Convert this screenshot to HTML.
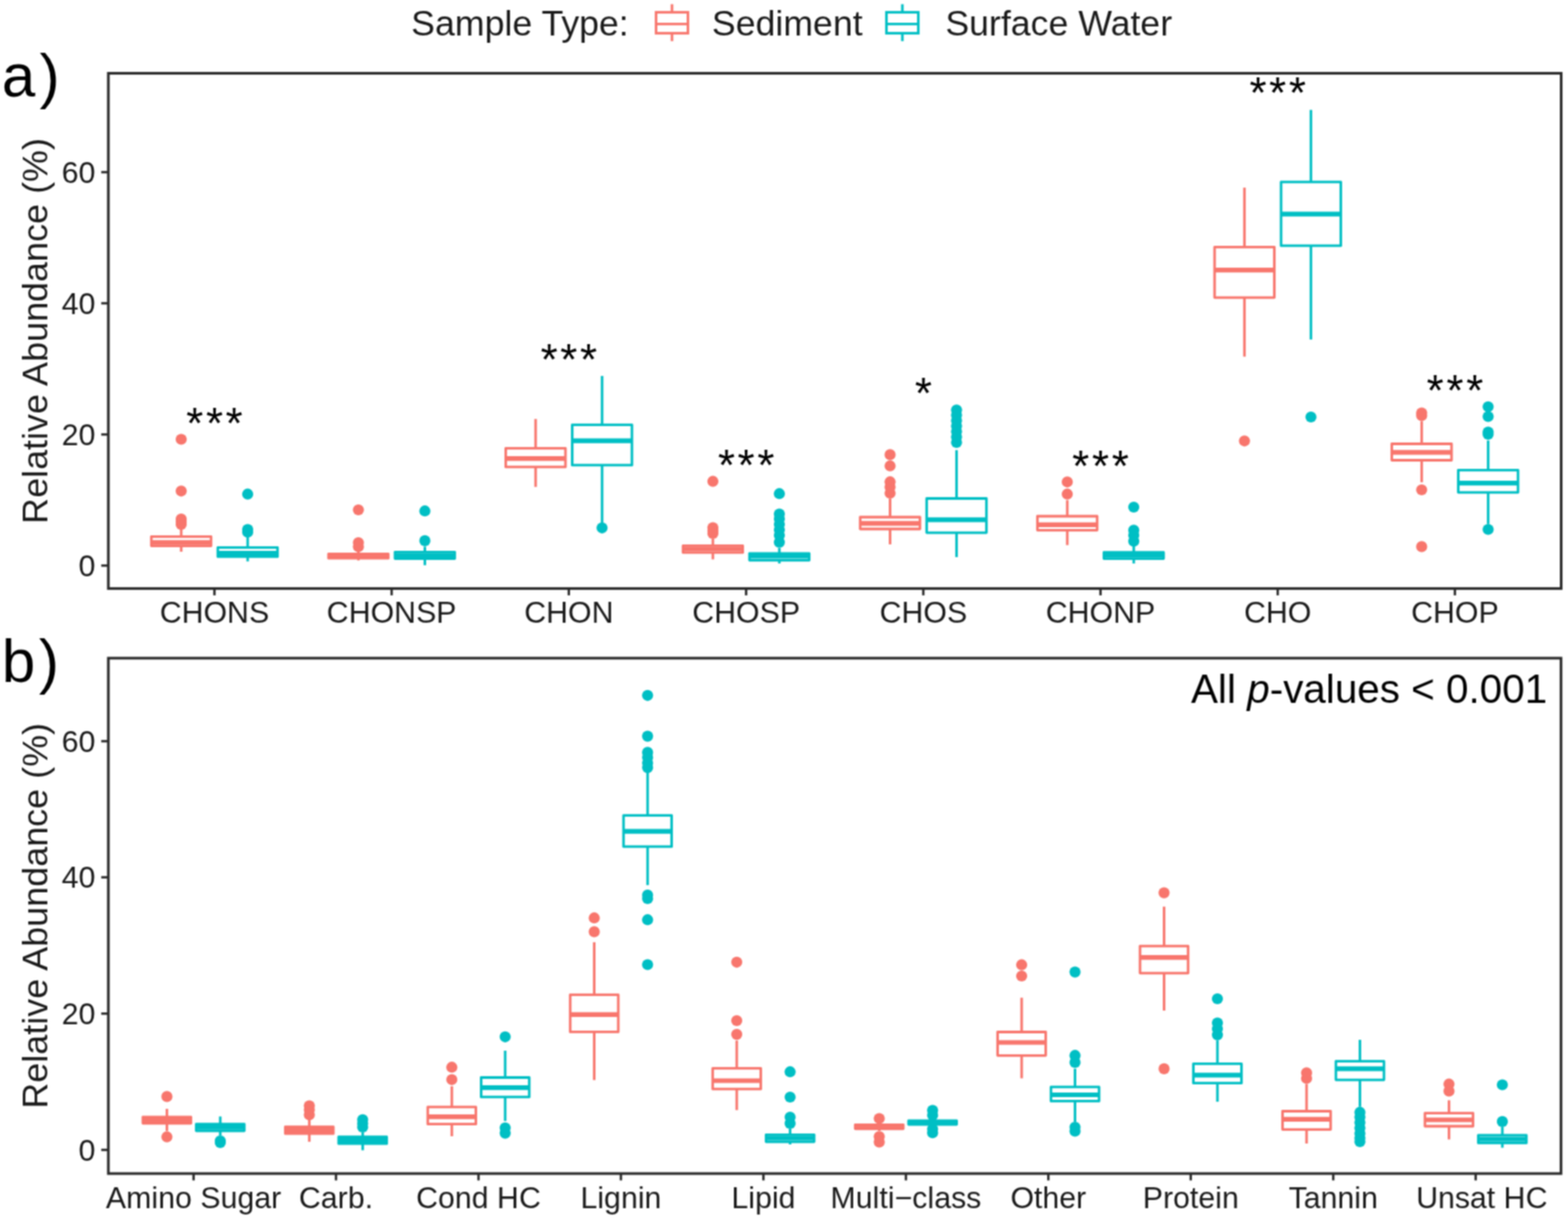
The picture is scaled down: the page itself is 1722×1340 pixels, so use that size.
<!DOCTYPE html>
<html><head><meta charset="utf-8"><title>Relative Abundance boxplots</title><style>
html,body{margin:0;padding:0;background:#fff;}
svg{display:block;}
text{font-family:"Liberation Sans",Arial,Helvetica,sans-serif;fill:#1a1a1a;}
.ax{font-size:33.3px;}
.lg{font-size:39.2px;}
.yt{font-size:39.5px;}
.tag{font-size:66px;fill:#000;}
.sig{font-size:48px;letter-spacing:3px;fill:#000;}
.pv{font-size:44.4px;fill:#000;}
</style></head>
<body>
<svg width="1722" height="1340" viewBox="0 0 1722 1340">
<defs><filter id="soft" x="0" y="0" width="1722" height="1340" filterUnits="userSpaceOnUse" color-interpolation-filters="sRGB"><feConvolveMatrix order="3" kernelMatrix="1 2 1 2 4 2 1 2 1" divisor="16" edgeMode="duplicate"/></filter></defs>
<g filter="url(#soft)">
<rect x="0" y="0" width="1722" height="1340" fill="#fff"/>
<g stroke="#F8766D" fill="none">
<line x1="199" y1="580.7" x2="199" y2="589.3" stroke-width="2.8"/>
<line x1="199" y1="599.6" x2="199" y2="606" stroke-width="2.8"/>
<rect x="166.2" y="589.3" width="65.6" height="10.3" stroke-width="2.8" stroke-linejoin="round" fill="#fff"/>
<line x1="166.2" y1="595.8" x2="231.8" y2="595.8" stroke-width="5.2"/>
</g>
<g fill="#F8766D"><circle cx="199" cy="482.5" r="6.1"/><circle cx="199" cy="539.3" r="6.1"/><circle cx="199" cy="570" r="6.1"/><circle cx="199" cy="573" r="6.1"/><circle cx="199" cy="576" r="6.1"/></g>
<g stroke="#00BFC4" fill="none">
<line x1="272" y1="588" x2="272" y2="601.4" stroke-width="2.8"/>
<line x1="272" y1="611.4" x2="272" y2="616.6" stroke-width="2.8"/>
<rect x="239.2" y="601.4" width="65.6" height="10" stroke-width="2.8" stroke-linejoin="round" fill="#fff"/>
<line x1="239.2" y1="607.6" x2="304.8" y2="607.6" stroke-width="5.2"/>
</g>
<g fill="#00BFC4"><circle cx="272" cy="542.7" r="6.1"/><circle cx="272" cy="581.5" r="6.1"/><circle cx="272" cy="584.5" r="6.1"/></g>
<g stroke="#F8766D" fill="none">
<line x1="393.6" y1="604" x2="393.6" y2="608.5" stroke-width="2.8"/>
<line x1="393.6" y1="613.2" x2="393.6" y2="615.5" stroke-width="2.8"/>
<rect x="360.8" y="608.5" width="65.6" height="4.7" stroke-width="2.8" stroke-linejoin="round" fill="#fff"/>
<line x1="360.8" y1="611" x2="426.4" y2="611" stroke-width="5.2"/>
</g>
<g fill="#F8766D"><circle cx="393.6" cy="560" r="6.1"/><circle cx="393.6" cy="596" r="6.1"/><circle cx="393.6" cy="600.5" r="6.1"/></g>
<g stroke="#00BFC4" fill="none">
<line x1="466.6" y1="600.4" x2="466.6" y2="606.3" stroke-width="2.8"/>
<line x1="466.6" y1="613.5" x2="466.6" y2="620.8" stroke-width="2.8"/>
<rect x="433.8" y="606.3" width="65.6" height="7.2" stroke-width="2.8" stroke-linejoin="round" fill="#fff"/>
<line x1="433.8" y1="610" x2="499.4" y2="610" stroke-width="5.2"/>
</g>
<g fill="#00BFC4"><circle cx="466.6" cy="561.2" r="6.1"/><circle cx="466.6" cy="593.9" r="6.1"/></g>
<g stroke="#F8766D" fill="none">
<line x1="588.2" y1="460.2" x2="588.2" y2="492.4" stroke-width="2.8"/>
<line x1="588.2" y1="512.9" x2="588.2" y2="534.8" stroke-width="2.8"/>
<rect x="555.4" y="492.4" width="65.6" height="20.5" stroke-width="2.8" stroke-linejoin="round" fill="#fff"/>
<line x1="555.4" y1="503.6" x2="621" y2="503.6" stroke-width="5.2"/>
</g>
<g stroke="#00BFC4" fill="none">
<line x1="661.2" y1="412.9" x2="661.2" y2="466.6" stroke-width="2.8"/>
<line x1="661.2" y1="510.9" x2="661.2" y2="574.3" stroke-width="2.8"/>
<rect x="628.4" y="466.6" width="65.6" height="44.3" stroke-width="2.8" stroke-linejoin="round" fill="#fff"/>
<line x1="628.4" y1="484.2" x2="694" y2="484.2" stroke-width="5.2"/>
</g>
<g fill="#00BFC4"><circle cx="661.2" cy="579.8" r="6.1"/></g>
<g stroke="#F8766D" fill="none">
<line x1="782.9" y1="592" x2="782.9" y2="599.4" stroke-width="2.8"/>
<line x1="782.9" y1="606.9" x2="782.9" y2="614.4" stroke-width="2.8"/>
<rect x="750.1" y="599.4" width="65.6" height="7.5" stroke-width="2.8" stroke-linejoin="round" fill="#fff"/>
<line x1="750.1" y1="603" x2="815.7" y2="603" stroke-width="5.2"/>
</g>
<g fill="#F8766D"><circle cx="782.9" cy="528.7" r="6.1"/><circle cx="782.9" cy="579.5" r="6.1"/><circle cx="782.9" cy="583" r="6.1"/><circle cx="782.9" cy="586" r="6.1"/></g>
<g stroke="#00BFC4" fill="none">
<line x1="855.9" y1="602" x2="855.9" y2="607.8" stroke-width="2.8"/>
<line x1="855.9" y1="615.3" x2="855.9" y2="618.9" stroke-width="2.8"/>
<rect x="823.1" y="607.8" width="65.6" height="7.5" stroke-width="2.8" stroke-linejoin="round" fill="#fff"/>
<line x1="823.1" y1="611" x2="888.7" y2="611" stroke-width="5.2"/>
</g>
<g fill="#00BFC4"><circle cx="855.9" cy="542.2" r="6.1"/><circle cx="855.9" cy="564.5" r="6.1"/><circle cx="855.9" cy="570" r="6.1"/><circle cx="855.9" cy="576" r="6.1"/><circle cx="855.9" cy="582" r="6.1"/><circle cx="855.9" cy="588" r="6.1"/><circle cx="855.9" cy="595.6" r="6.1"/></g>
<g stroke="#F8766D" fill="none">
<line x1="977.5" y1="548" x2="977.5" y2="568" stroke-width="2.8"/>
<line x1="977.5" y1="581" x2="977.5" y2="597.9" stroke-width="2.8"/>
<rect x="944.7" y="568" width="65.6" height="13" stroke-width="2.8" stroke-linejoin="round" fill="#fff"/>
<line x1="944.7" y1="574.9" x2="1010.3" y2="574.9" stroke-width="5.2"/>
</g>
<g fill="#F8766D"><circle cx="977.5" cy="499.4" r="6.1"/><circle cx="977.5" cy="511.7" r="6.1"/><circle cx="977.5" cy="529.2" r="6.1"/><circle cx="977.5" cy="535" r="6.1"/><circle cx="977.5" cy="541.8" r="6.1"/></g>
<g stroke="#00BFC4" fill="none">
<line x1="1050.5" y1="494.4" x2="1050.5" y2="547.5" stroke-width="2.8"/>
<line x1="1050.5" y1="585.1" x2="1050.5" y2="611.9" stroke-width="2.8"/>
<rect x="1017.7" y="547.5" width="65.6" height="37.6" stroke-width="2.8" stroke-linejoin="round" fill="#fff"/>
<line x1="1017.7" y1="570.8" x2="1083.3" y2="570.8" stroke-width="5.2"/>
</g>
<g fill="#00BFC4"><circle cx="1050.5" cy="450.3" r="6.1"/><circle cx="1050.5" cy="456" r="6.1"/><circle cx="1050.5" cy="462" r="6.1"/><circle cx="1050.5" cy="468" r="6.1"/><circle cx="1050.5" cy="474" r="6.1"/><circle cx="1050.5" cy="480" r="6.1"/><circle cx="1050.5" cy="486" r="6.1"/></g>
<g stroke="#F8766D" fill="none">
<line x1="1172.1" y1="549.4" x2="1172.1" y2="567" stroke-width="2.8"/>
<line x1="1172.1" y1="582.3" x2="1172.1" y2="598.7" stroke-width="2.8"/>
<rect x="1139.3" y="567" width="65.6" height="15.3" stroke-width="2.8" stroke-linejoin="round" fill="#fff"/>
<line x1="1139.3" y1="576.3" x2="1204.9" y2="576.3" stroke-width="5.2"/>
</g>
<g fill="#F8766D"><circle cx="1172.1" cy="529.3" r="6.1"/><circle cx="1172.1" cy="542.7" r="6.1"/></g>
<g stroke="#00BFC4" fill="none">
<line x1="1245.1" y1="600" x2="1245.1" y2="606.7" stroke-width="2.8"/>
<line x1="1245.1" y1="613.6" x2="1245.1" y2="618.9" stroke-width="2.8"/>
<rect x="1212.3" y="606.7" width="65.6" height="6.9" stroke-width="2.8" stroke-linejoin="round" fill="#fff"/>
<line x1="1212.3" y1="610" x2="1277.9" y2="610" stroke-width="5.2"/>
</g>
<g fill="#00BFC4"><circle cx="1245.1" cy="557" r="6.1"/><circle cx="1245.1" cy="582.3" r="6.1"/><circle cx="1245.1" cy="588" r="6.1"/><circle cx="1245.1" cy="594.4" r="6.1"/></g>
<g stroke="#F8766D" fill="none">
<line x1="1366.7" y1="206.1" x2="1366.7" y2="271.4" stroke-width="2.8"/>
<line x1="1366.7" y1="326.8" x2="1366.7" y2="391.7" stroke-width="2.8"/>
<rect x="1333.9" y="271.4" width="65.6" height="55.4" stroke-width="2.8" stroke-linejoin="round" fill="#fff"/>
<line x1="1333.9" y1="296.7" x2="1399.5" y2="296.7" stroke-width="5.2"/>
</g>
<g fill="#F8766D"><circle cx="1366.7" cy="484.3" r="6.1"/></g>
<g stroke="#00BFC4" fill="none">
<line x1="1439.7" y1="120.7" x2="1439.7" y2="199.9" stroke-width="2.8"/>
<line x1="1439.7" y1="269.9" x2="1439.7" y2="372.9" stroke-width="2.8"/>
<rect x="1406.9" y="199.9" width="65.6" height="70" stroke-width="2.8" stroke-linejoin="round" fill="#fff"/>
<line x1="1406.9" y1="235.1" x2="1472.5" y2="235.1" stroke-width="5.2"/>
</g>
<g fill="#00BFC4"><circle cx="1439.7" cy="458" r="6.1"/></g>
<g stroke="#F8766D" fill="none">
<line x1="1561.3" y1="462.5" x2="1561.3" y2="487.5" stroke-width="2.8"/>
<line x1="1561.3" y1="505.5" x2="1561.3" y2="529.7" stroke-width="2.8"/>
<rect x="1528.5" y="487.5" width="65.6" height="18" stroke-width="2.8" stroke-linejoin="round" fill="#fff"/>
<line x1="1528.5" y1="496.9" x2="1594.1" y2="496.9" stroke-width="5.2"/>
</g>
<g fill="#F8766D"><circle cx="1561.3" cy="453.6" r="6.1"/><circle cx="1561.3" cy="456.4" r="6.1"/><circle cx="1561.3" cy="538" r="6.1"/><circle cx="1561.3" cy="600.4" r="6.1"/></g>
<g stroke="#00BFC4" fill="none">
<line x1="1634.3" y1="483.8" x2="1634.3" y2="516.3" stroke-width="2.8"/>
<line x1="1634.3" y1="540.8" x2="1634.3" y2="575.7" stroke-width="2.8"/>
<rect x="1601.5" y="516.3" width="65.6" height="24.5" stroke-width="2.8" stroke-linejoin="round" fill="#fff"/>
<line x1="1601.5" y1="530.6" x2="1667.1" y2="530.6" stroke-width="5.2"/>
</g>
<g fill="#00BFC4"><circle cx="1634.3" cy="446.8" r="6.1"/><circle cx="1634.3" cy="457.5" r="6.1"/><circle cx="1634.3" cy="474.5" r="6.1"/><circle cx="1634.3" cy="477" r="6.1"/><circle cx="1634.3" cy="581.5" r="6.1"/></g>
<rect x="119" y="80.5" width="1595.5" height="565.9" fill="none" stroke="#2a2a2a" stroke-width="2.9"/>
<line x1="111.2" y1="621.2" x2="119" y2="621.2" stroke="#2a2a2a" stroke-width="2.6"/>
<text x="104.8" y="633" text-anchor="end" class="ax">0</text>
<line x1="111.2" y1="477.2" x2="119" y2="477.2" stroke="#2a2a2a" stroke-width="2.6"/>
<text x="104.8" y="489" text-anchor="end" class="ax">20</text>
<line x1="111.2" y1="333.1" x2="119" y2="333.1" stroke="#2a2a2a" stroke-width="2.6"/>
<text x="104.8" y="344.9" text-anchor="end" class="ax">40</text>
<line x1="111.2" y1="189.1" x2="119" y2="189.1" stroke="#2a2a2a" stroke-width="2.6"/>
<text x="104.8" y="200.9" text-anchor="end" class="ax">60</text>
<line x1="235.5" y1="646.4" x2="235.5" y2="653.9" stroke="#2a2a2a" stroke-width="2.6"/>
<text x="235.5" y="684.4" text-anchor="middle" class="ax">CHONS</text>
<line x1="430.1" y1="646.4" x2="430.1" y2="653.9" stroke="#2a2a2a" stroke-width="2.6"/>
<text x="430.1" y="684.4" text-anchor="middle" class="ax">CHONSP</text>
<line x1="624.7" y1="646.4" x2="624.7" y2="653.9" stroke="#2a2a2a" stroke-width="2.6"/>
<text x="624.7" y="684.4" text-anchor="middle" class="ax">CHON</text>
<line x1="819.4" y1="646.4" x2="819.4" y2="653.9" stroke="#2a2a2a" stroke-width="2.6"/>
<text x="819.4" y="684.4" text-anchor="middle" class="ax">CHOSP</text>
<line x1="1014" y1="646.4" x2="1014" y2="653.9" stroke="#2a2a2a" stroke-width="2.6"/>
<text x="1014" y="684.4" text-anchor="middle" class="ax">CHOS</text>
<line x1="1208.6" y1="646.4" x2="1208.6" y2="653.9" stroke="#2a2a2a" stroke-width="2.6"/>
<text x="1208.6" y="684.4" text-anchor="middle" class="ax">CHONP</text>
<line x1="1403.2" y1="646.4" x2="1403.2" y2="653.9" stroke="#2a2a2a" stroke-width="2.6"/>
<text x="1403.2" y="684.4" text-anchor="middle" class="ax">CHO</text>
<line x1="1597.8" y1="646.4" x2="1597.8" y2="653.9" stroke="#2a2a2a" stroke-width="2.6"/>
<text x="1597.8" y="684.4" text-anchor="middle" class="ax">CHOP</text>
<g stroke="#F8766D" fill="none">
<line x1="183.3" y1="1217.9" x2="183.3" y2="1226.8" stroke-width="2.8"/>
<line x1="183.3" y1="1233.8" x2="183.3" y2="1242.3" stroke-width="2.8"/>
<rect x="156.9" y="1226.8" width="52.8" height="7" stroke-width="2.8" stroke-linejoin="round" fill="#fff"/>
<line x1="156.9" y1="1230.3" x2="209.7" y2="1230.3" stroke-width="5.2"/>
</g>
<g fill="#F8766D"><circle cx="183.3" cy="1204.4" r="6.1"/><circle cx="183.3" cy="1248.7" r="6.1"/></g>
<g stroke="#00BFC4" fill="none">
<line x1="241.9" y1="1226.3" x2="241.9" y2="1234.7" stroke-width="2.8"/>
<line x1="241.9" y1="1242" x2="241.9" y2="1247" stroke-width="2.8"/>
<rect x="215.5" y="1234.7" width="52.8" height="7.3" stroke-width="2.8" stroke-linejoin="round" fill="#fff"/>
<line x1="215.5" y1="1238.2" x2="268.3" y2="1238.2" stroke-width="5.2"/>
</g>
<g fill="#00BFC4"><circle cx="241.9" cy="1253" r="6.1"/><circle cx="241.9" cy="1255" r="6.1"/></g>
<g stroke="#F8766D" fill="none">
<line x1="339.7" y1="1230" x2="339.7" y2="1237.7" stroke-width="2.8"/>
<line x1="339.7" y1="1245.2" x2="339.7" y2="1254.1" stroke-width="2.8"/>
<rect x="313.3" y="1237.7" width="52.8" height="7.5" stroke-width="2.8" stroke-linejoin="round" fill="#fff"/>
<line x1="313.3" y1="1241.5" x2="366.1" y2="1241.5" stroke-width="5.2"/>
</g>
<g fill="#F8766D"><circle cx="339.7" cy="1214.6" r="6.1"/><circle cx="339.7" cy="1219" r="6.1"/><circle cx="339.7" cy="1224.5" r="6.1"/></g>
<g stroke="#00BFC4" fill="none">
<line x1="398.3" y1="1244" x2="398.3" y2="1248.7" stroke-width="2.8"/>
<line x1="398.3" y1="1256.2" x2="398.3" y2="1263.4" stroke-width="2.8"/>
<rect x="371.9" y="1248.7" width="52.8" height="7.5" stroke-width="2.8" stroke-linejoin="round" fill="#fff"/>
<line x1="371.9" y1="1252.5" x2="424.7" y2="1252.5" stroke-width="5.2"/>
</g>
<g fill="#00BFC4"><circle cx="398.3" cy="1229.8" r="6.1"/><circle cx="398.3" cy="1234" r="6.1"/><circle cx="398.3" cy="1238" r="6.1"/></g>
<g stroke="#F8766D" fill="none">
<line x1="496.2" y1="1193.1" x2="496.2" y2="1215.9" stroke-width="2.8"/>
<line x1="496.2" y1="1234.7" x2="496.2" y2="1248" stroke-width="2.8"/>
<rect x="469.8" y="1215.9" width="52.8" height="18.8" stroke-width="2.8" stroke-linejoin="round" fill="#fff"/>
<line x1="469.8" y1="1226.6" x2="522.6" y2="1226.6" stroke-width="5.2"/>
</g>
<g fill="#F8766D"><circle cx="496.2" cy="1172.2" r="6.1"/><circle cx="496.2" cy="1185.8" r="6.1"/></g>
<g stroke="#00BFC4" fill="none">
<line x1="554.8" y1="1154" x2="554.8" y2="1183.5" stroke-width="2.8"/>
<line x1="554.8" y1="1204.9" x2="554.8" y2="1231.3" stroke-width="2.8"/>
<rect x="528.4" y="1183.5" width="52.8" height="21.4" stroke-width="2.8" stroke-linejoin="round" fill="#fff"/>
<line x1="528.4" y1="1194.7" x2="581.2" y2="1194.7" stroke-width="5.2"/>
</g>
<g fill="#00BFC4"><circle cx="554.8" cy="1138.8" r="6.1"/><circle cx="554.8" cy="1238.8" r="6.1"/><circle cx="554.8" cy="1244.6" r="6.1"/></g>
<g stroke="#F8766D" fill="none">
<line x1="652.6" y1="1034.9" x2="652.6" y2="1092.6" stroke-width="2.8"/>
<line x1="652.6" y1="1133.4" x2="652.6" y2="1186.3" stroke-width="2.8"/>
<rect x="626.2" y="1092.6" width="52.8" height="40.8" stroke-width="2.8" stroke-linejoin="round" fill="#fff"/>
<line x1="626.2" y1="1114.3" x2="679" y2="1114.3" stroke-width="5.2"/>
</g>
<g fill="#F8766D"><circle cx="652.6" cy="1008.2" r="6.1"/><circle cx="652.6" cy="1023.4" r="6.1"/></g>
<g stroke="#00BFC4" fill="none">
<line x1="711.2" y1="849" x2="711.2" y2="895.6" stroke-width="2.8"/>
<line x1="711.2" y1="929.9" x2="711.2" y2="972.2" stroke-width="2.8"/>
<rect x="684.8" y="895.6" width="52.8" height="34.3" stroke-width="2.8" stroke-linejoin="round" fill="#fff"/>
<line x1="684.8" y1="913.1" x2="737.6" y2="913.1" stroke-width="5.2"/>
</g>
<g fill="#00BFC4"><circle cx="711.2" cy="763.8" r="6.1"/><circle cx="711.2" cy="808.6" r="6.1"/><circle cx="711.2" cy="826.4" r="6.1"/><circle cx="711.2" cy="832" r="6.1"/><circle cx="711.2" cy="838" r="6.1"/><circle cx="711.2" cy="843.1" r="6.1"/><circle cx="711.2" cy="983" r="6.1"/><circle cx="711.2" cy="987" r="6.1"/><circle cx="711.2" cy="1010.2" r="6.1"/><circle cx="711.2" cy="1059.5" r="6.1"/></g>
<g stroke="#F8766D" fill="none">
<line x1="809.1" y1="1142.9" x2="809.1" y2="1173.4" stroke-width="2.8"/>
<line x1="809.1" y1="1196.2" x2="809.1" y2="1219.3" stroke-width="2.8"/>
<rect x="782.7" y="1173.4" width="52.8" height="22.8" stroke-width="2.8" stroke-linejoin="round" fill="#fff"/>
<line x1="782.7" y1="1187" x2="835.5" y2="1187" stroke-width="5.2"/>
</g>
<g fill="#F8766D"><circle cx="809.1" cy="1056.8" r="6.1"/><circle cx="809.1" cy="1121" r="6.1"/><circle cx="809.1" cy="1136.1" r="6.1"/></g>
<g stroke="#00BFC4" fill="none">
<line x1="867.7" y1="1240" x2="867.7" y2="1246.3" stroke-width="2.8"/>
<line x1="867.7" y1="1254" x2="867.7" y2="1257" stroke-width="2.8"/>
<rect x="841.3" y="1246.3" width="52.8" height="7.7" stroke-width="2.8" stroke-linejoin="round" fill="#fff"/>
<line x1="841.3" y1="1250" x2="894.1" y2="1250" stroke-width="5.2"/>
</g>
<g fill="#00BFC4"><circle cx="867.7" cy="1177.2" r="6.1"/><circle cx="867.7" cy="1205" r="6.1"/><circle cx="867.7" cy="1227" r="6.1"/><circle cx="867.7" cy="1233.9" r="6.1"/></g>
<g stroke="#F8766D" fill="none">
<line x1="965.6" y1="1234" x2="965.6" y2="1235.3" stroke-width="2.8"/>
<line x1="965.6" y1="1239.8" x2="965.6" y2="1242" stroke-width="2.8"/>
<rect x="939.2" y="1235.3" width="52.8" height="4.5" stroke-width="2.8" stroke-linejoin="round" fill="#fff"/>
<line x1="939.2" y1="1237.6" x2="992" y2="1237.6" stroke-width="5.2"/>
</g>
<g fill="#F8766D"><circle cx="965.6" cy="1228.5" r="6.1"/><circle cx="965.6" cy="1248.3" r="6.1"/><circle cx="965.6" cy="1254.4" r="6.1"/></g>
<g stroke="#00BFC4" fill="none">
<line x1="1024.2" y1="1229" x2="1024.2" y2="1231" stroke-width="2.8"/>
<line x1="1024.2" y1="1235" x2="1024.2" y2="1237" stroke-width="2.8"/>
<rect x="997.8" y="1231" width="52.8" height="4" stroke-width="2.8" stroke-linejoin="round" fill="#fff"/>
<line x1="997.8" y1="1233" x2="1050.6" y2="1233" stroke-width="5.2"/>
</g>
<g fill="#00BFC4"><circle cx="1024.2" cy="1219.6" r="6.1"/><circle cx="1024.2" cy="1225" r="6.1"/><circle cx="1024.2" cy="1240" r="6.1"/><circle cx="1024.2" cy="1244.2" r="6.1"/></g>
<g stroke="#F8766D" fill="none">
<line x1="1122" y1="1095.8" x2="1122" y2="1133.5" stroke-width="2.8"/>
<line x1="1122" y1="1159.3" x2="1122" y2="1184.4" stroke-width="2.8"/>
<rect x="1095.6" y="1133.5" width="52.8" height="25.8" stroke-width="2.8" stroke-linejoin="round" fill="#fff"/>
<line x1="1095.6" y1="1145" x2="1148.4" y2="1145" stroke-width="5.2"/>
</g>
<g fill="#F8766D"><circle cx="1122" cy="1059.7" r="6.1"/><circle cx="1122" cy="1072" r="6.1"/></g>
<g stroke="#00BFC4" fill="none">
<line x1="1180.6" y1="1173.8" x2="1180.6" y2="1193.9" stroke-width="2.8"/>
<line x1="1180.6" y1="1209.4" x2="1180.6" y2="1232" stroke-width="2.8"/>
<rect x="1154.2" y="1193.9" width="52.8" height="15.5" stroke-width="2.8" stroke-linejoin="round" fill="#fff"/>
<line x1="1154.2" y1="1202.5" x2="1207" y2="1202.5" stroke-width="5.2"/>
</g>
<g fill="#00BFC4"><circle cx="1180.6" cy="1067.6" r="6.1"/><circle cx="1180.6" cy="1159.2" r="6.1"/><circle cx="1180.6" cy="1166.9" r="6.1"/><circle cx="1180.6" cy="1238" r="6.1"/><circle cx="1180.6" cy="1242.4" r="6.1"/></g>
<g stroke="#F8766D" fill="none">
<line x1="1278.4" y1="995.8" x2="1278.4" y2="1039.2" stroke-width="2.8"/>
<line x1="1278.4" y1="1068.8" x2="1278.4" y2="1110" stroke-width="2.8"/>
<rect x="1252" y="1039.2" width="52.8" height="29.6" stroke-width="2.8" stroke-linejoin="round" fill="#fff"/>
<line x1="1252" y1="1051.7" x2="1304.8" y2="1051.7" stroke-width="5.2"/>
</g>
<g fill="#F8766D"><circle cx="1278.4" cy="980.6" r="6.1"/><circle cx="1278.4" cy="1173.9" r="6.1"/></g>
<g stroke="#00BFC4" fill="none">
<line x1="1337" y1="1142.6" x2="1337" y2="1168.4" stroke-width="2.8"/>
<line x1="1337" y1="1189.7" x2="1337" y2="1210.1" stroke-width="2.8"/>
<rect x="1310.6" y="1168.4" width="52.8" height="21.3" stroke-width="2.8" stroke-linejoin="round" fill="#fff"/>
<line x1="1310.6" y1="1180.9" x2="1363.4" y2="1180.9" stroke-width="5.2"/>
</g>
<g fill="#00BFC4"><circle cx="1337" cy="1097" r="6.1"/><circle cx="1337" cy="1123.5" r="6.1"/><circle cx="1337" cy="1130" r="6.1"/><circle cx="1337" cy="1136.6" r="6.1"/></g>
<g stroke="#F8766D" fill="none">
<line x1="1434.9" y1="1190.5" x2="1434.9" y2="1220.5" stroke-width="2.8"/>
<line x1="1434.9" y1="1240.6" x2="1434.9" y2="1256" stroke-width="2.8"/>
<rect x="1408.5" y="1220.5" width="52.8" height="20.1" stroke-width="2.8" stroke-linejoin="round" fill="#fff"/>
<line x1="1408.5" y1="1229.3" x2="1461.3" y2="1229.3" stroke-width="5.2"/>
</g>
<g fill="#F8766D"><circle cx="1434.9" cy="1178.3" r="6.1"/><circle cx="1434.9" cy="1184.5" r="6.1"/></g>
<g stroke="#00BFC4" fill="none">
<line x1="1493.5" y1="1142.1" x2="1493.5" y2="1165.6" stroke-width="2.8"/>
<line x1="1493.5" y1="1186.1" x2="1493.5" y2="1215.7" stroke-width="2.8"/>
<rect x="1467.1" y="1165.6" width="52.8" height="20.5" stroke-width="2.8" stroke-linejoin="round" fill="#fff"/>
<line x1="1467.1" y1="1173.8" x2="1519.9" y2="1173.8" stroke-width="5.2"/>
</g>
<g fill="#00BFC4"><circle cx="1493.5" cy="1221.7" r="6.1"/><circle cx="1493.5" cy="1227" r="6.1"/><circle cx="1493.5" cy="1233" r="6.1"/><circle cx="1493.5" cy="1239" r="6.1"/><circle cx="1493.5" cy="1245" r="6.1"/><circle cx="1493.5" cy="1250" r="6.1"/><circle cx="1493.5" cy="1254" r="6.1"/></g>
<g stroke="#F8766D" fill="none">
<line x1="1591.3" y1="1208.5" x2="1591.3" y2="1222.6" stroke-width="2.8"/>
<line x1="1591.3" y1="1237" x2="1591.3" y2="1251.5" stroke-width="2.8"/>
<rect x="1564.9" y="1222.6" width="52.8" height="14.4" stroke-width="2.8" stroke-linejoin="round" fill="#fff"/>
<line x1="1564.9" y1="1230" x2="1617.8" y2="1230" stroke-width="5.2"/>
</g>
<g fill="#F8766D"><circle cx="1591.3" cy="1190.7" r="6.1"/><circle cx="1591.3" cy="1198.4" r="6.1"/></g>
<g stroke="#00BFC4" fill="none">
<line x1="1649.9" y1="1237.9" x2="1649.9" y2="1246.9" stroke-width="2.8"/>
<line x1="1649.9" y1="1255.4" x2="1649.9" y2="1260.6" stroke-width="2.8"/>
<rect x="1623.5" y="1246.9" width="52.8" height="8.5" stroke-width="2.8" stroke-linejoin="round" fill="#fff"/>
<line x1="1623.5" y1="1251.2" x2="1676.3" y2="1251.2" stroke-width="5.2"/>
</g>
<g fill="#00BFC4"><circle cx="1649.9" cy="1191.5" r="6.1"/><circle cx="1649.9" cy="1231.9" r="6.1"/></g>
<rect x="119" y="722.9" width="1595.3" height="566.1" fill="none" stroke="#2a2a2a" stroke-width="2.9"/>
<line x1="111.2" y1="1263" x2="119" y2="1263" stroke="#2a2a2a" stroke-width="2.6"/>
<text x="104.8" y="1274.8" text-anchor="end" class="ax">0</text>
<line x1="111.2" y1="1113.3" x2="119" y2="1113.3" stroke="#2a2a2a" stroke-width="2.6"/>
<text x="104.8" y="1125.1" text-anchor="end" class="ax">20</text>
<line x1="111.2" y1="963.6" x2="119" y2="963.6" stroke="#2a2a2a" stroke-width="2.6"/>
<text x="104.8" y="975.4" text-anchor="end" class="ax">40</text>
<line x1="111.2" y1="814.1" x2="119" y2="814.1" stroke="#2a2a2a" stroke-width="2.6"/>
<text x="104.8" y="825.9" text-anchor="end" class="ax">60</text>
<line x1="212.6" y1="1289" x2="212.6" y2="1296.5" stroke="#2a2a2a" stroke-width="2.6"/>
<text x="212.6" y="1326.8" text-anchor="middle" class="ax">Amino Sugar</text>
<line x1="369" y1="1289" x2="369" y2="1296.5" stroke="#2a2a2a" stroke-width="2.6"/>
<text x="369" y="1326.8" text-anchor="middle" class="ax">Carb.</text>
<line x1="525.5" y1="1289" x2="525.5" y2="1296.5" stroke="#2a2a2a" stroke-width="2.6"/>
<text x="525.5" y="1326.8" text-anchor="middle" class="ax">Cond HC</text>
<line x1="681.9" y1="1289" x2="681.9" y2="1296.5" stroke="#2a2a2a" stroke-width="2.6"/>
<text x="681.9" y="1326.8" text-anchor="middle" class="ax">Lignin</text>
<line x1="838.4" y1="1289" x2="838.4" y2="1296.5" stroke="#2a2a2a" stroke-width="2.6"/>
<text x="838.4" y="1326.8" text-anchor="middle" class="ax">Lipid</text>
<line x1="994.9" y1="1289" x2="994.9" y2="1296.5" stroke="#2a2a2a" stroke-width="2.6"/>
<text x="994.9" y="1326.8" text-anchor="middle" class="ax">Multi−class</text>
<line x1="1151.3" y1="1289" x2="1151.3" y2="1296.5" stroke="#2a2a2a" stroke-width="2.6"/>
<text x="1151.3" y="1326.8" text-anchor="middle" class="ax">Other</text>
<line x1="1307.7" y1="1289" x2="1307.7" y2="1296.5" stroke="#2a2a2a" stroke-width="2.6"/>
<text x="1307.7" y="1326.8" text-anchor="middle" class="ax">Protein</text>
<line x1="1464.2" y1="1289" x2="1464.2" y2="1296.5" stroke="#2a2a2a" stroke-width="2.6"/>
<text x="1464.2" y="1326.8" text-anchor="middle" class="ax">Tannin</text>
<line x1="1620.6" y1="1289" x2="1620.6" y2="1296.5" stroke="#2a2a2a" stroke-width="2.6"/>
<text x="1627.3" y="1326.8" text-anchor="middle" class="ax">Unsat HC</text>
<text x="237" y="480.7" text-anchor="middle" class="sig">***</text>
<text x="626.2" y="411" text-anchor="middle" class="sig">***</text>
<text x="820.9" y="526.8" text-anchor="middle" class="sig">***</text>
<text x="1015.5" y="447.7" text-anchor="middle" class="sig">*</text>
<text x="1210.1" y="527.6" text-anchor="middle" class="sig">***</text>
<text x="1404.7" y="118.4" text-anchor="middle" class="sig">***</text>
<text x="1599.3" y="444.8" text-anchor="middle" class="sig">***</text>
<text x="1308" y="772.3" class="pv">All <tspan font-style="italic">p</tspan>-values &lt; 0.001</text>
<text x="1.9" y="106" class="tag">a<tspan dx="5">)</tspan></text>
<text x="2" y="749" class="tag">b<tspan dx="4">)</tspan></text>
<text transform="translate(52,363.5) rotate(-90)" text-anchor="middle" class="yt">Relative Abundance (%)</text>
<text transform="translate(52,1005.9) rotate(-90)" text-anchor="middle" class="yt">Relative Abundance (%)</text>
<text x="451.6" y="38.7" class="lg">Sample Type:</text>
<g stroke="#F8766D" fill="none" stroke-width="2.8"><line x1="738" y1="4.6" x2="738" y2="13.5"/><line x1="738" y1="36.5" x2="738" y2="45.2"/><rect x="720.5" y="13.5" width="35" height="23" fill="#fff"/><line x1="720.5" y1="26.4" x2="755.5" y2="26.4"/></g>
<text x="781.8" y="38.7" class="lg">Sediment</text>
<g stroke="#00BFC4" fill="none" stroke-width="2.8"><line x1="991" y1="4.6" x2="991" y2="13.5"/><line x1="991" y1="36.5" x2="991" y2="45.2"/><rect x="973.5" y="13.5" width="35" height="23" fill="#fff"/><line x1="973.5" y1="26.4" x2="1008.5" y2="26.4"/></g>
<text x="1038.2" y="38.7" class="lg">Surface Water</text>
</g>
</svg>
</body></html>
